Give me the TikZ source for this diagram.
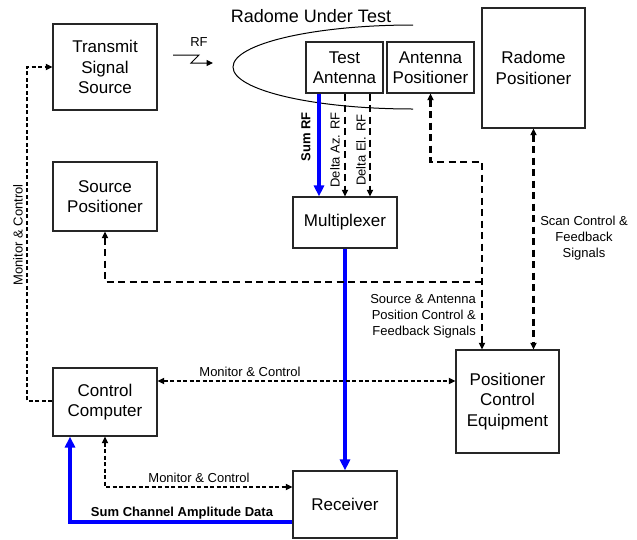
\documentclass[tikz,border=0pt]{standalone}
\usepackage{fontspec}
\setmainfont{Liberation Sans}
\usetikzlibrary{arrows.meta}
\begin{document}
\begin{tikzpicture}[x=1pt,y=-1pt,
  box/.style={draw=black!85,line width=1.1pt,inner sep=0pt,align=center,
    font=\fontsize{17}{20.5}\selectfont},
  small/.style={font=\fontsize{13}{16}\selectfont,inner sep=0pt},
  smallbold/.style={font=\fontsize{13}{16}\selectfont\bfseries,inner sep=0pt},
  longdash/.style={line width=2.1pt,dash pattern=on 7pt off 4.5pt},
  shortdash/.style={line width=1.7pt,dash pattern=on 4pt off 2.5pt},
  tip/.tip={Triangle[length=6.5pt,width=6pt]},
  bigtip/.tip={Triangle[length=11pt,width=10pt]},
  sumline/.style={blue,line width=3.5pt}]
\useasboundingbox (0,0) rectangle (637,539);

% blocks
\node[box,minimum width=104pt,minimum height=86pt] (tss) at (105,67) {Transmit\\Signal\\Source};
\node[box,minimum width=104pt,minimum height=69pt] (sp) at (105,196.5) {Source\\Positioner};
\node[box,minimum width=104pt,minimum height=68pt] (cc) at (105,402) {Control\\Computer};
\node[box,minimum width=104pt,minimum height=67pt] (rx) at (345,504.5) {Receiver};
\node[box,minimum width=103pt,minimum height=103pt] (pce) at (507.5,401.5) {Positioner\\Control\\Equipment};
\node[box,minimum width=104pt,minimum height=51pt] (mux) at (345,222.5) {Multiplexer};
\node[box,minimum width=77pt,minimum height=51pt] (ta) at (344.5,67.5) {Test\\Antenna};
\node[box,minimum width=87pt,minimum height=51pt] (ap) at (430.5,67.5) {Antenna\\Positioner};
\node[box,minimum width=103pt,minimum height=120pt] (rp) at (533.5,68) {Radome\\Positioner};

% radome outline and title
\draw[line width=1pt] (413,25) arc[start angle=270,end angle=90,x radius=180,y radius=42];
\node[font=\fontsize{18}{20}\selectfont,inner sep=0pt] (title) at (311,16) {Radome Under Test};

% RF link from the source
\coordinate (rfa) at (173,55);
\coordinate (rfb) at (213,63);
\draw[line width=1pt,-tip] (rfa) -- (199,55) -- (191,63) -- (rfb);
\node[small] (rflbl) at (199,42) {RF};

% antenna outputs to multiplexer
\draw[sumline,-bigtip] (ta.south -| 319,0) -- (mux.north -| 319,0);
\node[smallbold,rotate=90] (sumlbl) at (306,137) {Sum RF};
\draw[longdash,-tip] (ta.south -| 345,0) -- (mux.north -| 345,0);
\node[small,rotate=90] (azlbl) at (335,150) {Delta Az. RF};
\draw[longdash,-tip] (ta.south -| 370,0) -- (mux.north -| 370,0);
\node[small,rotate=90] (ellbl) at (361,150) {Delta El. RF};

% multiplexer to receiver
\draw[sumline,-bigtip] (mux.south) -- (rx.north);

% positioner control lines
\coordinate (jn) at (482,282);
\draw[longdash,tip-tip] (ap.south) |- (482,162) -- (pce.north -| jn);
\draw[longdash,tip-] (sp.south) |- (jn);
\draw[longdash,tip-tip] (rp.south) -- (pce.north -| rp.south);
\node[small,align=right,anchor=east] (posl) at (476,316) {Source \& Antenna\\Position Control \&\\Feedback Signals};
\node[small,align=center] (scanl) at (584,238) {Scan Control \&\\Feedback\\Signals};

% monitor and control links
\draw[shortdash,tip-tip] (cc.east |- 0,381) -- (pce.west |- 0,381);
\node[small] (mc1) at (250,372) {Monitor \& Control};
\draw[shortdash,tip-tip] (cc.south) |- (rx.west |- 0,487);
\node[small] (mc2) at (199,478) {Monitor \& Control};
\draw[shortdash,-tip] (cc.west |- 0,401) -- (27,401) |- (tss.west);
\node[small,rotate=90] (mc3) at (18,235) {Monitor \& Control};

% sum channel data back to the computer
\draw[sumline,-bigtip] (rx.west |- 0,522) -| (cc.south -| 70,0);
\node[smallbold] (sumdata) at (182,513) {Sum Channel Amplitude Data};
\end{tikzpicture}
\end{document}
